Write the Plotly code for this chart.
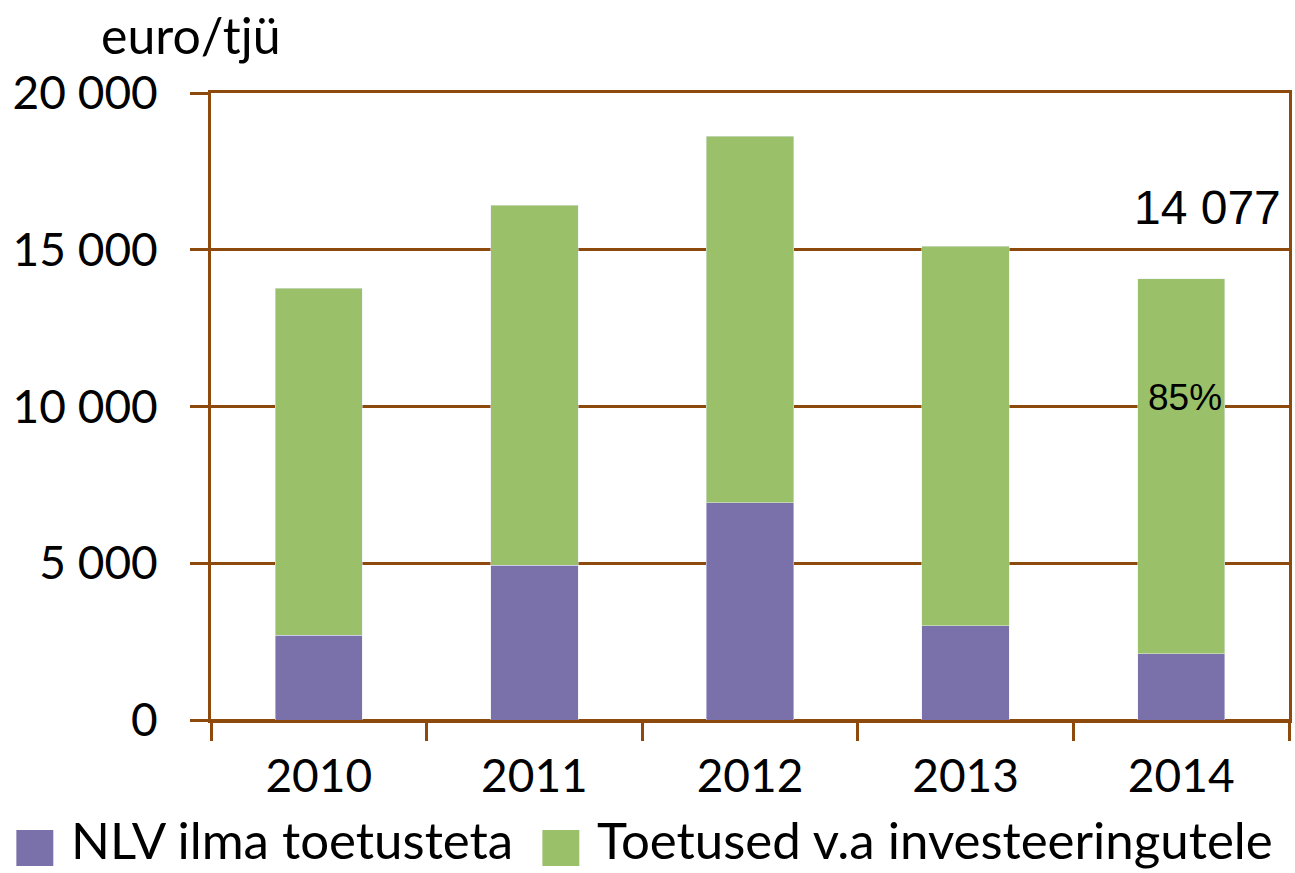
import plotly.graph_objects as go

years = ['2010', '2011', '2012', '2013', '2014']
nlv = [2710, 4930, 6930, 3000, 2110]
toetused = [11070, 11490, 11690, 12110, 11967]
y_ticks = [0, 5000, 10000, 15000, 20000]
y_labels = ['0', '5 000', '10 000', '15 000', '20 000']

BROWN = '#8E4A0C'
PURPLE = '#7A70AA'
GREEN = '#9AC06A'
FONT = 'Lato, Calibri, sans-serif'

fig = go.Figure()
fig.add_trace(go.Bar(x=years, y=nlv, name='NLV ilma toetusteta',
                     marker_color=PURPLE, width=0.405))
fig.add_trace(go.Bar(x=years, y=toetused, name='Toetused v.a investeeringutele',
                     marker_color=GREEN, width=0.405))

# total and share for the last year
total_last = nlv[-1] + toetused[-1]
share_last = round(100 * toetused[-1] / total_last)

fig.add_annotation(x=0.9945, y=0.8166, xref='paper', yref='paper',
                   text=f'{total_last:,}'.replace(',', ' '), showarrow=False,
                   xanchor='right', yanchor='middle',
                   font=dict(family='Liberation Sans, Arial', size=48, color='black'))
fig.add_annotation(x=len(years) - 1, y=10290, xshift=4, text=f'{share_last}%', showarrow=False,
                   font=dict(family='Liberation Sans, Arial', size=37, color='black'))
fig.add_annotation(x=-0.0185, y=1.092, xref='paper', yref='paper', text='euro/tjü',
                   showarrow=False, xanchor='center', yanchor='middle',
                   font=dict(family=FONT, size=50, color='black'))

# legend drawn by hand so the colour boxes match the size of the original
legend_items = [('NLV ilma toetusteta', PURPLE, 17), ('Toetused v.a investeeringutele', GREEN, 544)]
for label, color, px0 in legend_items:
    x0 = (px0 - 212) / 1080
    fig.add_shape(type='rect', xref='paper', yref='paper', x0=x0, x1=x0 + 37 / 1080,
                  y0=(720 - 866) / 627, y1=(720 - 830) / 627, fillcolor=color, line_width=0)
    fig.add_annotation(x=x0 + 54 / 1080, y=(720 - 839) / 627, xref='paper', yref='paper',
                       text=label, showarrow=False, xanchor='left', yanchor='middle',
                       borderpad=0, font=dict(family=FONT, size=51, color='black'))

fig.update_layout(
    barmode='stack',
    width=1295, height=873,
    margin=dict(l=211, r=3, t=93, b=153),
    plot_bgcolor='white', paper_bgcolor='white',
    font=dict(family=FONT, size=46, color='black'),
    showlegend=False,
)
fig.update_xaxes(type='category', range=[-0.5, 4.5], tickson='boundaries', ticks='outside',
                 ticklen=18, tickwidth=3, tickcolor=BROWN, showline=True, linecolor=BROWN,
                 linewidth=3, mirror=True, showgrid=False, tickangle=0,
                 ticklabelstandoff=14)
fig.update_yaxes(range=[0, 20000], tickvals=y_ticks, ticktext=y_labels,
                 ticks='outside', ticklen=18, tickwidth=3, tickcolor=BROWN,
                 showgrid=True, gridcolor=BROWN, gridwidth=3,
                 zeroline=True, zerolinecolor=BROWN, zerolinewidth=3,
                 showline=True, linecolor=BROWN, linewidth=3, mirror=True,
                 ticklabelstandoff=23)

fig.write_html('out.html', config={'displayModeBar': False},
               post_script="document.body.style.margin='0';")
